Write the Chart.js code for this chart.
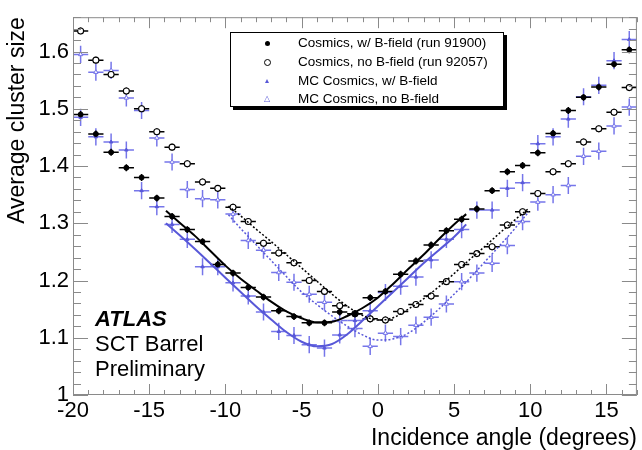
<!DOCTYPE html>
<html lang="en">
<head>
<meta charset="UTF-8">
<title>Average cluster size vs incidence angle</title>
<script src="https://cdn.jsdelivr.net/npm/chart.js"></script>
<style>
    html, body { margin: 0; padding: 0; background: #fff; }
    body { width: 642px; height: 450px; overflow: hidden; font-family: 'Liberation Sans', Arial, sans-serif; }
    .wrap { position: relative; width: 642px; height: 450px; }
    canvas { display: block; }
    .legend {
        position: absolute; left: 230px; top: 32px; width: 272px; height: 73px;
        border: 1px solid #000; background: #fff; box-shadow: 3px 3px 0 #000;
    }
    .legend .row { position: absolute; left: 67px; height: 18px; line-height: 18px; font-size: 13.5px; color: #000; white-space: nowrap; }
    .legend .mk { position: absolute; left: 36px; }
    .dot { width: 5px; height: 5px; border-radius: 50%; background: #000; margin: -2.5px 0 0 -2.5px; }
    .ring { width: 5px; height: 5px; border-radius: 50%; border: 1px solid #000; background: #fff; margin: -3.5px 0 0 -3.5px; }
    .tri { width: 0; height: 0; border-left: 2.5px solid transparent; border-right: 2.5px solid transparent; border-bottom: 4px solid #5858d8; margin: -2px 0 0 -2.5px; }
    .otri { font-size: 8px; line-height: 8px; color: #5858d8; margin: -4px 0 0 -3px; }
    .atlas { position: absolute; left: 95px; top: 306px; font-size: 22px; line-height: 25px; color: #000; }
    .atlas b { font-style: italic; }
</style>
</head>
<body>
<div class="wrap">
    <canvas id="chart" width="642" height="450"></canvas>
    <div class="legend">
        <div class="mk dot" style="top:10px"></div>
        <div class="row" style="top:1px">Cosmics, w/ B-field (run 91900)</div>
        <div class="mk ring" style="top:29px"></div>
        <div class="row" style="top:20px">Cosmics, no B-field (run 92057)</div>
        <div class="mk tri" style="top:48px"></div>
        <div class="row" style="top:39px">MC Cosmics, w/ B-field</div>
        <div class="mk otri" style="top:66px">△</div>
        <div class="row" style="top:57px">MC Cosmics, no B-field</div>
    </div>
    <div class="atlas"><b>ATLAS</b><br>SCT Barrel<br>Preliminary</div>
</div>
<script>
    // bin centres (degrees), 1 degree wide bins
    const ANGLES = [-19.5, -18.5, -17.5, -16.5, -15.5, -14.5, -13.5, -12.5, -11.5, -10.5,
                    -9.5, -8.5, -7.5, -6.5, -5.5, -4.5, -3.5, -2.5, -1.5, -0.5,
                    0.5, 1.5, 2.5, 3.5, 4.5, 5.5, 6.5, 7.5, 8.5, 9.5,
                    10.5, 11.5, 12.5, 13.5, 14.5, 15.5, 16.5];
    const BIN_HALF_WIDTH = 0.5;

    const DATA_BFIELD = [1.490, 1.456, 1.424, 1.397, 1.380, 1.344, 1.312, 1.289, 1.268, 1.228,
                         1.213, 1.188, 1.171, 1.147, 1.137, 1.126, 1.126, 1.145, 1.142, 1.170,
                         1.181, 1.211, 1.234, 1.262, 1.287, 1.307, 1.325, 1.357, 1.390, 1.401,
                         1.423, 1.457, 1.497, 1.520, 1.538, 1.578, 1.603];
    const DATA_NOFIELD = [1.636, 1.585, 1.560, 1.531, 1.500, 1.460, 1.433, 1.404, 1.372, 1.361,
                          1.328, 1.303, 1.265, 1.248, 1.231, 1.200, 1.181, 1.156, 1.142, 1.133,
                          1.131, 1.146, 1.158, 1.173, 1.198, 1.228, 1.247, 1.259, 1.297, 1.320,
                          1.352, 1.390, 1.404, 1.442, 1.465, 1.494, 1.537];
    const MC_BFIELD = [1.485, 1.451, 1.442, 1.428, 1.357, 1.329, 1.298, 1.272, 1.224, 1.224,
                       1.196, 1.173, 1.145, 1.111, 1.104, 1.088, 1.082, 1.105, 1.130, 1.147,
                       1.179, 1.190, 1.206, 1.236, 1.272, 1.289, 1.323, 1.323, 1.361, 1.371,
                       1.439, 1.451, 1.482, 1.521, 1.541, 1.584, 1.621];
    const MC_NOFIELD = [1.595, 1.564, 1.567, 1.519, 1.497, 1.449, 1.407, 1.359, 1.343, 1.341,
                        1.316, 1.270, 1.253, 1.214, 1.197, 1.176, 1.162, 1.130, 1.116, 1.085,
                        1.108, 1.102, 1.122, 1.136, 1.159, 1.198, 1.213, 1.230, 1.261, 1.303,
                        1.337, 1.350, 1.366, 1.417, 1.426, 1.470, 1.503];
    const DATA_ERR = 0.006;
    const MC_ERR = 0.015;

    // fitted curves
    const FIT_BFIELD_X = [-13.9, -13, -12, -11, -10, -9, -8, -7, -6, -5, -4, -3, -2, -1, 0, 1, 2, 3, 4, 5, 5.8];
    const FIT_DATA_BFIELD = [1.322, 1.301, 1.278, 1.252, 1.226, 1.203, 1.183, 1.163, 1.146, 1.134, 1.127,
                             1.128, 1.138, 1.152, 1.170, 1.194, 1.220, 1.245, 1.272, 1.298, 1.316];
    const FIT_MC_BFIELD = [1.300, 1.279, 1.255, 1.230, 1.205, 1.180, 1.155, 1.132, 1.110, 1.093, 1.085,
                           1.089, 1.106, 1.130, 1.155, 1.180, 1.205, 1.230, 1.253, 1.276, 1.298];
    const FIT_NOFIELD_X = [-9.8, -9, -8, -7, -6, -5, -4, -3, -2, -1, 0, 1, 2, 3, 4, 5, 6, 7, 8, 9, 9.9];
    const FIT_DATA_NOFIELD = [1.330, 1.313, 1.290, 1.268, 1.245, 1.222, 1.199, 1.176, 1.155, 1.139, 1.131,
                              1.135, 1.150, 1.168, 1.189, 1.212, 1.236, 1.259, 1.283, 1.306, 1.326];
    const FIT_MC_NOFIELD = [1.315, 1.291, 1.263, 1.235, 1.207, 1.180, 1.158, 1.138, 1.120, 1.105, 1.096,
                            1.098, 1.108, 1.127, 1.150, 1.176, 1.203, 1.232, 1.261, 1.291, 1.320];

    const X_TICKS = [-20, -15, -10, -5, 0, 5, 10, 15];
    const Y_TICKS = [1, 1.1, 1.2, 1.3, 1.4, 1.5, 1.6];

    const BLUE_LINE = '#5858d8';
    const BLUE_BAR = '#7676ea';
    const FONT = "'Liberation Sans', Arial, sans-serif";

    const pts = (xs, ys) => xs.map((x, i) => ({ x: x, y: ys[i] }));

    // horizontal bin-width bars and vertical error bars under the markers
    const errorBars = {
        id: 'errorBars',
        beforeDatasetsDraw(chart) {
            const { ctx, chartArea: a, scales: { x, y } } = chart;
            ctx.save();
            ctx.beginPath();
            ctx.rect(a.left, a.top, a.right - a.left, a.bottom - a.top);
            ctx.clip();
            chart.data.datasets.forEach(ds => {
                if (!ds.errY) return;
                ctx.strokeStyle = ds.barColor;
                ctx.lineWidth = 1.5;
                ctx.beginPath();
                ds.data.forEach(p => {
                    const px = x.getPixelForValue(p.x);
                    const py = y.getPixelForValue(p.y);
                    ctx.moveTo(x.getPixelForValue(p.x - BIN_HALF_WIDTH), py);
                    ctx.lineTo(x.getPixelForValue(p.x + BIN_HALF_WIDTH), py);
                    ctx.moveTo(px, y.getPixelForValue(p.y - ds.errY));
                    ctx.lineTo(px, y.getPixelForValue(p.y + ds.errY));
                });
                ctx.stroke();
            });
            ctx.restore();
        }
    };

    // ROOT-style frame with inward ticks on all four sides
    const frameTicks = {
        id: 'frameTicks',
        afterDraw(chart) {
            const { ctx, chartArea: a, scales: { x, y } } = chart;
            ctx.save();
            ctx.strokeStyle = '#8a8a8a';
            ctx.lineWidth = 1;
            ctx.strokeRect(a.left + 0.5, a.top + 0.5, a.right - a.left - 1, a.bottom - a.top - 1);
            ctx.beginPath();
            for (let v = -20; v <= 17; v++) {
                const px = Math.round(x.getPixelForValue(v)) + 0.5;
                const len = v % 5 === 0 ? 11 : 5;
                ctx.moveTo(px, a.bottom); ctx.lineTo(px, a.bottom - len);
                ctx.moveTo(px, a.top); ctx.lineTo(px, a.top + len);
            }
            for (let i = 0; i <= 33; i++) {
                const py = Math.round(y.getPixelForValue(1 + i * 0.02)) + 0.5;
                const len = i % 5 === 0 ? 15 : 8;
                ctx.moveTo(a.left, py); ctx.lineTo(a.left + len, py);
                ctx.moveTo(a.right, py); ctx.lineTo(a.right - len, py);
            }
            ctx.stroke();
            ctx.restore();
        }
    };

    new Chart(document.getElementById('chart'), {
        type: 'scatter',
        data: {
            datasets: [
                { type: 'line', data: pts(FIT_BFIELD_X, FIT_DATA_BFIELD), borderColor: '#000', borderWidth: 2,
                  pointRadius: 0, cubicInterpolationMode: 'monotone', order: 0 },
                { type: 'line', data: pts(FIT_NOFIELD_X, FIT_DATA_NOFIELD), borderColor: '#000', borderWidth: 1.5,
                  borderDash: [2, 2], pointRadius: 0, cubicInterpolationMode: 'monotone', order: 0 },
                { type: 'line', data: pts(FIT_BFIELD_X, FIT_MC_BFIELD), borderColor: BLUE_LINE, borderWidth: 2,
                  pointRadius: 0, cubicInterpolationMode: 'monotone', order: 0 },
                { type: 'line', data: pts(FIT_NOFIELD_X, FIT_MC_NOFIELD), borderColor: BLUE_LINE, borderWidth: 1.5,
                  borderDash: [2, 2], pointRadius: 0, cubicInterpolationMode: 'monotone', order: 0 },
                { data: pts(ANGLES, MC_BFIELD), errY: MC_ERR, barColor: BLUE_BAR, pointStyle: 'triangle',
                  pointRadius: 2, backgroundColor: BLUE_LINE, borderColor: BLUE_LINE, borderWidth: 1, order: 2 },
                { data: pts(ANGLES, MC_NOFIELD), errY: MC_ERR, barColor: BLUE_BAR, pointStyle: 'triangle',
                  pointRadius: 2.5, backgroundColor: '#fff', borderColor: BLUE_BAR, borderWidth: 1, order: 2 },
                { data: pts(ANGLES, DATA_BFIELD), errY: DATA_ERR, barColor: '#000', pointStyle: 'circle',
                  pointRadius: 2.5, backgroundColor: '#000', borderColor: '#000', borderWidth: 1, order: 1 },
                { data: pts(ANGLES, DATA_NOFIELD), errY: DATA_ERR, barColor: '#000', pointStyle: 'circle',
                  pointRadius: 3, backgroundColor: '#fff', borderColor: '#000', borderWidth: 1.1, order: 1 }
            ]
        },
        options: {
            responsive: false,
            animation: false,
            layout: { padding: { top: 7, right: 2, left: 0, bottom: 0 } },
            plugins: { legend: { display: false }, tooltip: { enabled: false } },
            scales: {
                x: {
                    type: 'linear', min: -20, max: 17,
                    afterFit: s => { s.height = 55; },
                    afterBuildTicks: s => { s.ticks = X_TICKS.map(v => ({ value: v })); },
                    grid: { display: false, drawTicks: false },
                    border: { display: false },
                    ticks: { color: '#000', font: { family: FONT, size: 22 }, padding: 3, maxRotation: 0, autoSkip: false,
                             callback: v => String(v) },
                    title: { display: true, text: 'Incidence angle (degrees)', align: 'end', color: '#000',
                             font: { family: FONT, size: 23 }, padding: { top: 0, bottom: -2 } }
                },
                y: {
                    type: 'linear', min: 1, max: 1.66,
                    afterFit: s => { s.width = 73; },
                    afterBuildTicks: s => { s.ticks = Y_TICKS.map(v => ({ value: v })); },
                    grid: { display: false, drawTicks: false },
                    border: { display: false },
                    ticks: { color: '#000', font: { family: FONT, size: 22 }, padding: 4, autoSkip: false,
                             callback: v => String(Math.round(v * 10) / 10) },
                    title: { display: true, text: 'Average cluster size', align: 'end', color: '#000',
                             font: { family: FONT, size: 23 }, padding: { top: 4, bottom: 0 } }
                }
            }
        },
        plugins: [errorBars, frameTicks]
    });
</script>
</body>
</html>
